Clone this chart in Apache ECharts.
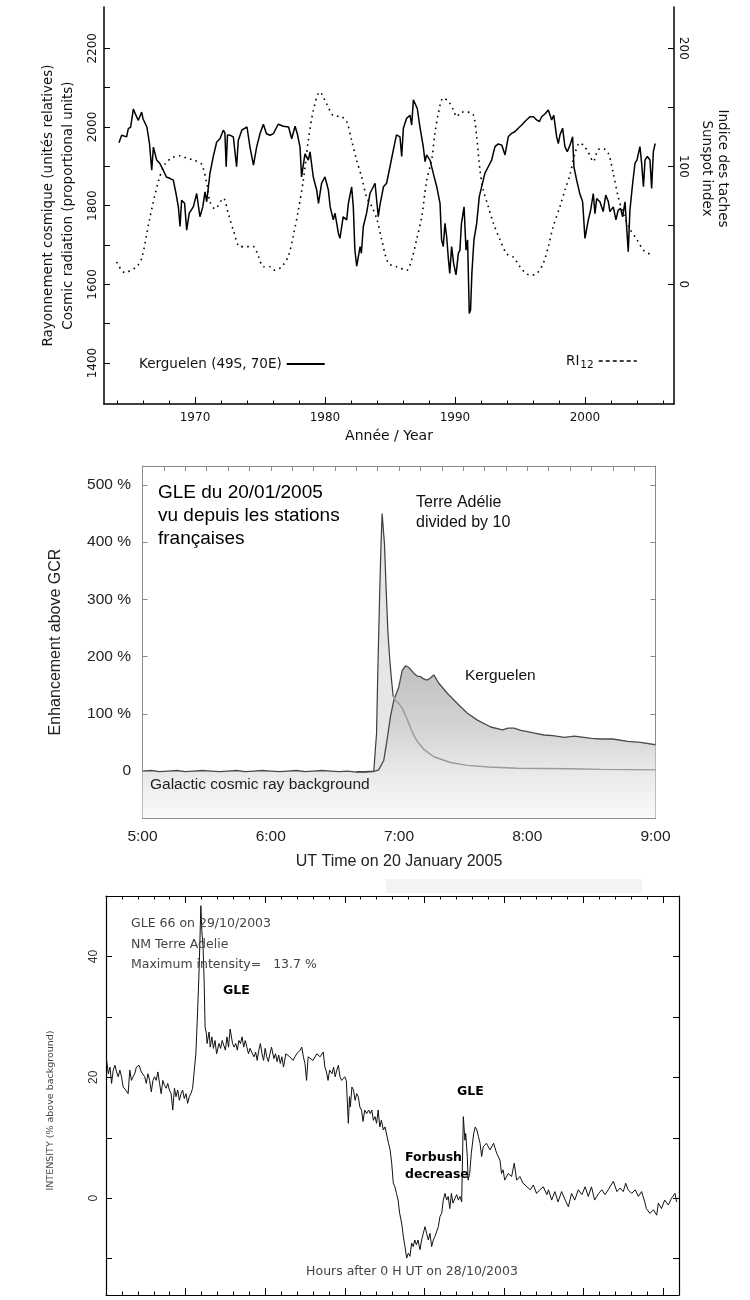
<!DOCTYPE html>
<html><head><meta charset="utf-8">
<script src="https://cdn.jsdelivr.net/npm/echarts@6/dist/echarts.min.js"></script>
<style>html,body{margin:0;padding:0;background:#fff}#c{width:750px;height:1300px}</style>
</head><body><div id="c"></div>
<script>
// ---------- DATA ----------
// Chart 1 : Kerguelen neutron monitor (left axis) and sunspot number RI12 (right axis)
const kerguelenMonthly = [
[1964.15,1960],[1964.36,1979],[1964.74,1975],[1964.87,1996],[1965.05,2000],[1965.26,2046],[1965.4,2034],[1965.64,2017],[1965.9,2038],[1966.0,2021],[1966.3,2000],[1966.5,1958],[1966.67,1890],[1966.8,1949],[1967.05,1916],[1967.3,1907],[1967.56,1890],[1967.8,1873],[1968.1,1869],[1968.33,1865],[1968.54,1831],[1968.72,1797],[1968.85,1747],[1968.97,1814],[1969.2,1806],[1969.36,1738],[1969.56,1781],[1969.87,1797],[1970.13,1831],[1970.38,1772],[1970.6,1797],[1970.77,1835],[1970.9,1810],[1971.15,1882],[1971.4,1924],[1971.67,1962],[1971.92,1970],[1972.18,1992],[1972.3,1985],[1972.4,1899],[1972.5,1980],[1972.7,1979],[1972.95,1975],[1973.2,1899],[1973.33,1966],[1973.6,1992],[1974.0,2000],[1974.23,1949],[1974.5,1903],[1974.74,1949],[1975.0,1983],[1975.26,2007],[1975.5,1983],[1975.77,1979],[1976.03,1983],[1976.4,2007],[1976.8,2002],[1977.2,2000],[1977.44,1970],[1977.7,2002],[1977.87,1983],[1978.08,1949],[1978.2,1873],[1978.46,1932],[1978.72,1916],[1978.85,1937],[1979.1,1873],[1979.36,1840],[1979.5,1806],[1979.74,1857],[1980.0,1873],[1980.26,1840],[1980.4,1797],[1980.64,1764],[1980.77,1781],[1981.03,1730],[1981.15,1717],[1981.4,1772],[1981.67,1764],[1981.8,1806],[1982.05,1848],[1982.18,1797],[1982.3,1688],[1982.44,1646],[1982.7,1696],[1982.8,1679],[1982.95,1747],[1983.2,1781],[1983.46,1831],[1983.85,1857],[1984.1,1772],
[1984.23,1802],[1984.5,1848],[1984.74,1857],[1985.0,1899],[1985.26,1942],[1985.5,1980],[1985.77,1975],[1985.9,1925],[1986.03,1997],[1986.28,2022],[1986.54,2030],[1986.67,2005],[1986.8,2069],[1986.92,2070],[1987.1,2047],[1987.3,2001],[1987.56,1950],[1987.7,1912],[1987.82,1929],[1988.08,1916],[1988.33,1882],[1988.6,1848],[1988.85,1806],[1988.97,1713],[1989.1,1696],[1989.23,1755],[1989.36,1721],[1989.5,1662],[1989.6,1628],[1989.74,1696],[1989.9,1653],[1990.08,1624],[1990.26,1679],[1990.38,1687],[1990.5,1755],[1990.7,1797],[1990.85,1687],[1990.97,1713],[1991.1,1526],[1991.2,1535],[1991.3,1628],[1991.46,1713],[1991.67,1755],[1991.87,1823],[1992.05,1848],[1992.3,1882],[1992.56,1899],[1992.82,1916],[1993.08,1950],[1993.33,1957],[1993.6,1954],[1993.85,1929],[1994.1,1975],[1994.36,1984],[1994.6,1988],[1994.87,1997],[1995.13,2005],[1995.38,2014],[1995.77,2026],[1996.03,2026],[1996.28,2018],[1996.5,2014],[1996.67,2026],[1996.92,2033],[1997.18,2043],[1997.44,2018],[1997.6,2030],[1997.82,1975],[1997.95,1958],[1998.08,1980],[1998.28,1997],[1998.46,1950],[1998.64,1937],[1998.85,1954],[1999.05,1975],[1999.15,1899],[1999.36,1865],[1999.6,1831],[1999.82,1810],[2000.0,1717],[2000.13,1713],[2000.26,1764],[2000.44,1789],[2000.64,1831],[2000.77,1780],[2000.9,1818],[2001.15,1810],[2001.4,1785],[2001.6,1827],[2001.8,1810],[2001.92,1785],[2002.18,1797],[2002.38,1764],[2002.56,1789],[2002.74,1793],[2002.9,1772],[2003.08,1810],[2003.33,1683],[2003.46,1789],[2003.67,1857],[2003.85,1908],[2004.0,1916],[2004.23,1950],[2004.36,1908],[2004.5,1848],[2004.62,1916],[2004.8,1925],[2005.0,1916],[2005.13,1844],[2005.26,1937],[2005.4,1958]
];
const sunspotRI12 = [
[1963.97,19],[1964.6,10],[1965.5,15],[1965.9,22],[1966.5,55],[1967.2,88],[1967.7,102],[1968.2,107],[1968.85,109],[1969.36,107],[1970.0,105],[1970.5,102],[1970.9,86],[1971.15,70],[1971.54,64],[1972.18,73],[1972.56,60],[1972.95,46],[1973.46,32],[1974.0,32],[1974.5,32],[1974.87,24],[1975.26,15],[1975.77,15],[1976.15,12],[1976.67,15],[1977.18,24],[1977.56,41],[1977.95,63],[1978.33,88],[1978.72,122],[1979.1,147],[1979.6,163],[1980.13,153],[1980.64,143],[1981.28,142],[1981.67,138],[1982.05,122],[1982.44,105],[1982.82,91],[1983.2,74],[1983.6,66],[1984.0,55],[1984.36,38],[1984.87,18],[1985.5,15],[1986.28,12],[1986.67,21],[1987.05,38],[1987.44,57],[1987.82,88],[1988.2,105],[1988.46,128],[1988.72,145],[1989.1,158],[1989.5,155],[1989.87,148],[1990.13,142],[1990.5,146],[1990.9,146],[1991.4,144],[1991.67,125],[1991.92,97],[1992.18,80],[1992.56,66],[1992.95,52],[1993.46,38],[1993.97,26],[1994.5,23],[1995.0,15],[1995.5,9],[1995.9,8],[1996.28,9],[1996.8,18],[1997.18,32],[1997.56,49],[1998.08,66],[1998.46,80],[1998.85,93],[1999.23,111],[1999.6,120],[1999.87,118],[2000.26,112],[2000.64,104],[2001.0,114],[2001.4,115],[2001.8,111],[2002.18,94],[2002.56,74],[2002.95,60],[2003.46,47],[2004.0,38],[2004.5,29],[2005.13,25]
];
const topYearLabels = [1970,1980,1990,2000];
const topYearTicks = [1964,1966,1968,1970,1972,1974,1976,1978,1980,1982,1984,1986,1988,1990,1992,1994,1996,1998,2000,2002,2004,2006];
const topLeftTicks = [1400,1500,1600,1700,1800,1900,2000,2100,2200];
const topLeftLabels = [1400,1600,1800,2000,2200];
const topRightTicks = [0,50,100,150,200];
const topRightLabels = [0,100,200];

// Chart 2 : GLE 20/01/2005 (x = minutes after 0:00 UT, y = % above GCR)
const kerguelen2005 = [
[300,0],[304,1],[308,-1],[312,0],[316,1],[320,-1],[324,0],[328,1],[332,0],[336,-1],[340,0],[344,1],[348,-1],[352,0],[356,1],[360,0],[364,-1],[368,0],[372,1],[376,-1],[380,0],[384,1],[388,0],[392,-1],[396,0],[400,-2],[404,-2],[408,-1],[410.5,2],[412.9,19],[414.4,54],[416,95],[417.6,124],[419.9,147],[421.5,176],[423.1,184],[424.6,181],[426.9,171],[428.5,166],[430.1,165],[431.5,161],[433.2,159],[434.8,163],[436.3,168],[438.7,153],[442.6,136],[447.3,118],[452,101],[456.7,89],[462.9,77],[468.4,72],[471,75],[473.8,75],[477,71],[480.1,69],[484,66],[487.9,63],[492,62],[497.3,59],[502,61],[506.6,59],[510,57],[514.5,56],[520,56],[527,52],[533,50],[540,46]
];
const adelieSpike2005 = [
[400,-1],[404,-1],[408.2,0],[409.5,66],[410.1,176],[411,316],[411.6,397],[412.1,450],[412.9,450],[413.2,397],[414,316],[414.8,243],[415.7,194],[416.5,159],[417.3,130]
];
const adelieDecay2005 = [
[417.3,130],[418.4,123],[419.9,118],[421.5,110],[423.9,90],[426.2,68],[428.5,52],[431.6,38],[436.3,25],[444.1,15],[451.9,10],[462,7],[475.4,5],[500,4],[514.5,3],[540,2]
];
const midTimeValues = [300,360,420,480,540];
const midTimeLabels = ['5:00','6:00','7:00','8:00','9:00'];
const midPctValues = [0,100,200,300,400,500];
const midPctLabels = ['0','100 %','200 %','300 %','400 %','500 %'];

// Chart 3 : NM Terre Adelie, Oct 2003 (x = hours after 0 H UT 28/10/2003)
const adelie2003 = [
[0.08,22.8],[0.29,20.6],[0.5,21.7],[0.7,19.0],[0.91,21.2],[1.12,22.0],[1.33,20.9],[1.54,20.1],[1.74,21.2],[1.95,20.1],[2.16,18.4],[2.49,17.9],[2.78,17.3],[2.99,21.2],[3.2,19.5],[3.4,20.1],[3.61,20.6],[3.82,21.7],[4.15,22.0],[4.44,20.9],[4.65,21.2],[4.86,20.1],[5.06,19.0],[5.27,20.6],[5.48,19.5],[5.69,17.6],[5.9,19.5],[6.1,20.1],[6.31,19.5],[6.52,20.9],[6.73,19.0],[6.93,17.3],[7.14,19.5],[7.35,18.7],[7.56,18.2],[7.76,19.0],[7.97,17.9],[8.18,17.3],[8.39,14.6],[8.6,18.2],[8.8,16.8],[9.01,17.9],[9.22,16.2],[9.43,17.3],[9.63,17.9],[9.84,16.5],[10.05,17.3],[10.26,15.7],[10.46,16.8],[10.67,17.3],[10.88,18.2],[11.09,18.4],[11.29,23.9],[11.5,30.5],[11.71,38.2],[11.92,48.4],[12.04,44.3],[12.2,41.5],[12.33,36.0],[12.45,28.3],[12.62,27.2],[12.7,25.6],[12.95,27.5],[13.1,25.0],[13.3,26.7],[13.5,24.8],[13.7,26.1],[13.9,23.9],[14.2,25.6],[14.4,24.8],[14.6,26.1],[14.8,25.3],[15.0,24.5],[15.2,26.7],[15.4,25.0],[15.6,28.0],[15.9,25.6],[16.1,25.0],[16.3,25.6],[16.5,24.5],[16.7,26.1],[16.9,25.6],[17.1,26.7],[17.3,25.0],[17.5,26.1],[17.7,25.0],[17.9,23.9],[18.1,24.8],[18.4,23.9],[18.6,23.4],[18.8,24.2],[19.0,22.8],[19.2,24.5],[19.4,25.6],[19.6,23.9],[19.8,22.8],[20.0,24.8],[20.2,23.4],[20.4,22.6],[20.6,23.9],[20.8,25.0],[21.1,23.1],[21.3,23.9],[21.5,22.6],[21.7,23.7],[21.9,22.3],[22.1,23.4],[22.3,21.7],[22.6,23.9],
[23.1,23.4],[23.5,22.8],[23.96,23.9],[24.4,24.5],[24.6,25.0],[24.8,23.4],[25.0,22.3],[25.2,19.5],[25.4,23.4],[25.6,23.7],[26.0,22.8],[26.5,23.9],[26.9,23.4],[27.3,24.2],[27.5,21.7],[27.7,20.9],[27.9,19.5],[28.1,21.2],[28.4,20.6],[28.6,21.7],[28.8,20.1],[29.0,21.2],[29.2,22.0],[29.4,20.1],[29.6,19.5],[29.8,19.3],[30.0,20.1],[30.2,19.5],[30.45,12.4],[30.6,16.8],[30.7,15.1],[30.9,18.4],[31.1,17.9],[31.3,16.2],[31.5,17.3],[31.7,16.8],[31.9,15.1],[32.1,14.6],[32.3,12.7],[32.5,14.6],[32.75,14.0],[33.0,14.6],[33.2,14.0],[33.4,14.6],[33.6,12.9],[33.8,13.5],[34.0,12.4],[34.2,14.6],[34.4,11.8],[34.6,12.9],[34.85,11.3],[35.06,11.8],[35.27,11.8],[35.5,9.1],[35.7,8.0],[35.9,5.8],[36.1,2.5],[36.3,1.9],[36.5,0.8],[36.7,-0.3],[36.9,-2.5],[37.15,-4.1],[37.36,-6.3],[37.57,-8.0],[37.78,-9.9],[37.99,-9.1],[38.2,-9.6],[38.4,-7.4],[38.6,-8.0],[38.8,-6.9],[39.0,-7.7],[39.2,-6.9],[39.45,-8.5],[39.66,-6.9],[39.87,-5.8],[40.08,-4.7],[40.29,-5.8],[40.5,-6.9],[40.71,-5.8],[40.92,-8.0],[41.13,-6.9],[41.34,-6.3],[41.55,-6.3],[41.76,-4.7],[41.97,-3.0],[42.18,-2.5],[42.38,-0.3],[42.6,0.8],[42.8,-0.3],[43.0,0.3],[43.2,-1.7],[43.4,0.8],[43.6,-0.8],[43.85,0.0],[44.06,0.6],[44.27,-0.3],[44.48,0.3],[44.69,-0.6],[44.81,-0.8],[44.9,13.5],[45.1,9.6],[45.2,10.7],[45.4,6.9],[45.5,3.0],[45.7,4.1],[45.9,7.4],[46.2,10.7],[46.4,11.8],[46.6,11.3],[46.8,10.2],[47.0,9.1],[47.2,6.9],[47.4,8.5],[47.8,9.1],
[48.25,8.0],[48.7,9.1],[49.1,7.4],[49.5,6.3],[49.7,4.1],[49.9,4.7],[50.1,3.0],[50.55,4.1],[50.97,3.6],[51.3,5.8],[51.6,3.0],[52.0,3.6],[52.4,2.5],[52.9,1.9],[53.3,1.4],[53.7,2.2],[54.1,0.8],[54.5,1.4],[54.95,1.9],[55.4,0.6],[55.6,1.4],[56.0,-0.3],[56.4,1.1],[56.8,-0.6],[57.25,1.1],[57.7,-0.3],[58.1,-1.4],[58.5,0.8],[58.9,-0.3],[59.35,1.4],[59.8,0.6],[60.2,1.9],[60.6,0.3],[61.0,1.9],[61.4,-0.3],[61.9,0.8],[62.3,1.4],[62.7,0.6],[63.1,1.4],[63.75,2.8],[64.2,1.1],[64.6,1.7],[65.0,1.1],[65.3,2.5],[65.6,1.4],[66.05,0.8],[66.5,1.4],[66.9,0.3],[67.3,1.1],[67.7,-0.6],[67.9,-1.7],[68.35,-2.5],[68.8,-1.9],[69.2,-2.8],[69.4,-0.8],[69.8,-1.7],[70.2,-0.3],[70.65,-1.1],[71.05,0.0],[71.5,0.8],[71.7,-0.6]
];
const botYTicks = [-10,0,10,20,30,40];
const botYLabels = [0,20,40];

// ---------- CHART ----------
const F1 = 'DejaVu Sans';
const F2 = 'Liberation Sans';
const chart = echarts.init(document.getElementById('c'), null, {renderer:'canvas', width:750, height:1300});

function line(color, w){ return {show:true, onZero:false, lineStyle:{color:color, width:w}}; }
function tick(len, color, custom){ const t = {show:true, inside:true, length:len, lineStyle:{color:color, width:1}}; if (custom) t.customValues = custom; return t; }
const noSplit = {show:false};

const option = {
  animation:false,
  backgroundColor:'#ffffff',
  grid:[
    {left:104, top:7, width:570, height:397, containLabel:false, outerBoundsMode:'none'},
    {left:142.5, top:466, width:513, height:352, containLabel:false, outerBoundsMode:'none'},
    {left:106, top:896, width:573, height:399, containLabel:false, outerBoundsMode:'none'}
  ],
  legend:[
    {data:['Kerguelen (49S, 70E)'], left:134, top:352, align:'right', itemWidth:38, itemHeight:12, itemGap:5,
     selectedMode:false, lineStyle:{width:2, type:'solid', color:'#000'}, itemStyle:{opacity:0},
     textStyle:{fontFamily:F1, fontSize:13.5, color:'#111'}},
    {data:['RI12'], left:561, top:349, align:'right', itemWidth:38, itemHeight:12,
     selectedMode:false, lineStyle:{width:1.5, type:[4,3], color:'#000'}, itemStyle:{opacity:0},
     formatter:function(){ return '{a|RI}{b|12}'; },
     textStyle:{fontFamily:F1, fontSize:13.5, color:'#111',
       rich:{a:{fontFamily:F1, fontSize:13.5, color:'#111'}, b:{fontFamily:F1, fontSize:10.5, color:'#111', padding:[9,0,0,1]}}}}
  ],
  xAxis:[
    {gridIndex:0, type:'value', min:1963, max:2006.85, position:'bottom',
     axisLine:line('#000',1.5), axisTick:tick(7,'#000',topYearLabels),
     axisLabel:{show:true, customValues:topYearLabels, margin:8, fontFamily:F1, fontSize:12, color:'#111', formatter:function(v){return String(v);}},
     splitLine:noSplit,
     name:'Année / Year', nameLocation:'middle', nameGap:25, nameTextStyle:{fontFamily:F1, fontSize:14, color:'#111'}},
    {gridIndex:0, type:'value', min:1963, max:2006.85, position:'bottom',
     axisLine:{show:false, onZero:false}, axisTick:tick(3.5,'#000',topYearTicks), axisLabel:{show:false}, splitLine:noSplit},
    {gridIndex:1, type:'value', min:300, max:540, interval:60, position:'bottom',
     axisLine:line('#8a8a8a',1), axisTick:tick(5,'#8a8a8a'),
     minorTick:{show:true, splitNumber:6, length:5, lineStyle:{color:'#8a8a8a', width:1}},
     axisLabel:{show:true, margin:11, fontFamily:F2, fontSize:15.5, color:'#222',
       formatter:function(v){ const i = midTimeValues.indexOf(v); return i >= 0 ? midTimeLabels[i] : ''; }},
     splitLine:noSplit, minorSplitLine:noSplit,
     name:'UT Time on 20 January 2005', nameLocation:'middle', nameGap:36, nameTextStyle:{fontFamily:F2, fontSize:16, color:'#222'}},
    {gridIndex:1, type:'value', min:300, max:540, interval:60, position:'top',
     axisLine:line('#8a8a8a',1), axisTick:tick(5,'#8a8a8a'),
     minorTick:{show:true, splitNumber:6, length:5, lineStyle:{color:'#8a8a8a', width:1}},
     axisLabel:{show:false}, splitLine:noSplit, minorSplitLine:noSplit},
    {gridIndex:2, type:'value', min:0, max:72, interval:10, position:'bottom',
     axisLine:line('#000',1.2), axisTick:tick(7,'#000'),
     minorTick:{show:true, splitNumber:5, length:3.5, lineStyle:{color:'#000', width:1}},
     axisLabel:{show:false}, splitLine:noSplit, minorSplitLine:noSplit},
    {gridIndex:2, type:'value', min:0, max:72, interval:10, position:'top',
     axisLine:line('#000',1.2), axisTick:tick(7,'#000'),
     minorTick:{show:true, splitNumber:5, length:3.5, lineStyle:{color:'#000', width:1}},
     axisLabel:{show:false}, splitLine:noSplit, minorSplitLine:noSplit}
  ],
  yAxis:[
    {gridIndex:0, type:'value', min:1296, max:2305, position:'left',
     axisLine:line('#000',1.5), axisTick:tick(6,'#000',topLeftTicks),
     axisLabel:{show:true, customValues:topLeftLabels, rotate:90, margin:5, fontFamily:F1, fontSize:12, color:'#111', formatter:function(v){return String(v);}},
     splitLine:noSplit,
     name:'Rayonnement cosmique (unités relatives)\nCosmic radiation (proportional units)', nameLocation:'middle', nameRotate:90, nameGap:26,
     nameTextStyle:{fontFamily:F1, fontSize:13.5, lineHeight:20, color:'#111'}},
    {gridIndex:0, type:'value', min:-101.3, max:235, position:'right',
     axisLine:line('#000',1.5), axisTick:tick(6,'#000',topRightTicks),
     axisLabel:{show:true, customValues:topRightLabels, rotate:-90, margin:3, fontFamily:F1, fontSize:12, color:'#111', formatter:function(v){return String(v);}},
     splitLine:noSplit,
     name:'Indice des taches\nSunspot index', nameLocation:'middle', nameRotate:-90, nameGap:24,
     nameTextStyle:{fontFamily:F1, fontSize:13.5, lineHeight:16, color:'#111', padding:[0,74,0,0]}},
    {gridIndex:1, type:'value', min:-82, max:533, position:'left',
     axisLine:line('#8a8a8a',1), axisTick:tick(5,'#8a8a8a',midPctValues),
     axisLabel:{show:true, customValues:midPctValues, margin:11.5, fontFamily:F2, fontSize:15.5, color:'#222',
       formatter:function(v){ const i = midPctValues.indexOf(v); return i >= 0 ? midPctLabels[i] : ''; }},
     splitLine:noSplit,
     name:'Enhancement above GCR', nameLocation:'middle', nameRotate:90, nameGap:79,
     nameTextStyle:{fontFamily:F2, fontSize:16, color:'#222'}},
    {gridIndex:1, type:'value', min:-82, max:533, position:'right',
     axisLine:line('#8a8a8a',1), axisTick:tick(5,'#8a8a8a',midPctValues), axisLabel:{show:false}, splitLine:noSplit},
    {gridIndex:2, type:'value', min:-16, max:50, position:'left',
     axisLine:line('#000',1.2), axisTick:tick(6,'#000',botYTicks),
     axisLabel:{show:true, customValues:botYLabels, rotate:90, margin:6, fontFamily:F2, fontSize:12, color:'#333', formatter:function(v){return String(v);}},
     splitLine:noSplit,
     name:'INTENSITY (% above background)', nameLocation:'middle', nameRotate:90, nameGap:50,
     nameTextStyle:{fontFamily:F1, fontSize:9.5, color:'#444', padding:[0,30,0,0]}},
    {gridIndex:2, type:'value', min:-16, max:50, position:'right',
     axisLine:line('#000',1.2), axisTick:tick(6,'#000',botYTicks), axisLabel:{show:false}, splitLine:noSplit}
  ],
  series:[
    {name:'Kerguelen (49S, 70E)', type:'line', xAxisIndex:0, yAxisIndex:0, data:kerguelenMonthly,
     symbol:'none', lineStyle:{color:'#000', width:1.5}, itemStyle:{color:'#000'}},
    {name:'RI12', type:'line', xAxisIndex:0, yAxisIndex:1, data:sunspotRI12, smooth:0.3,
     symbol:'none', lineStyle:{color:'#000', width:1.6, type:[1.6,4.2]}, itemStyle:{color:'#000'}},
    {name:'Terre Adélie / 10', type:'line', xAxisIndex:2, yAxisIndex:2, data:adelieSpike2005,
     symbol:'none', lineStyle:{color:'#3a3a3a', width:1.2},
     areaStyle:{origin:'start', color:'#e6e6e6', opacity:1}},
    {name:'Kerguelen 2005', type:'line', xAxisIndex:2, yAxisIndex:2, data:kerguelen2005,
     symbol:'none', lineStyle:{color:'#4a4a4a', width:1.3},
     areaStyle:{origin:'start', opacity:1,
       color:new echarts.graphic.LinearGradient(0, 655, 0, 818, [
         {offset:0, color:'#bcbcbc'}, {offset:0.45, color:'#d4d4d4'}, {offset:0.72, color:'#e9e9e9'}, {offset:1, color:'#fafafa'}], true)}},
    {name:'Terre Adélie decay', type:'line', xAxisIndex:2, yAxisIndex:2, data:adelieDecay2005,
     symbol:'none', lineStyle:{color:'#9a9a9a', width:1.4}},
    {name:'NM Terre Adelie 2003', type:'line', xAxisIndex:4, yAxisIndex:4, data:adelie2003,
     symbol:'none', lineStyle:{color:'#111', width:1}}
  ],
  graphic:[
    {type:'rect', z:-1, shape:{x:386, y:879, width:256, height:14}, style:{fill:'#f3f3f3'}},
    {type:'text', z:100, x:158, y:516, style:{text:'GLE du 20/01/2005\nvu depuis les stations\nfrançaises', fontFamily:F2, fontSize:19, lineHeight:23, fill:'#000', verticalAlign:'middle'}},
    {type:'text', z:100, x:416, y:513, style:{text:'Terre Adélie\ndivided by 10', fontFamily:F2, fontSize:16, lineHeight:20, fill:'#111', verticalAlign:'middle'}},
    {type:'text', z:100, x:465, y:676, style:{text:'Kerguelen', fontFamily:F2, fontSize:15.5, fill:'#111', verticalAlign:'middle'}},
    {type:'text', z:100, x:150, y:785, style:{text:'Galactic cosmic ray background', fontFamily:F2, fontSize:15.5, fill:'#222', verticalAlign:'middle'}},
    {type:'text', z:100, x:131, y:944.5, style:{text:'GLE 66 on 29/10/2003\nNM Terre Adelie\nMaximum intensity=   13.7 %', fontFamily:F1, fontSize:12.5, lineHeight:20.5, fill:'#444', verticalAlign:'middle'}},
    {type:'text', z:100, x:223, y:991, style:{text:'GLE', fontFamily:F1, fontWeight:'bold', fontSize:12.5, fill:'#000', verticalAlign:'middle'}},
    {type:'text', z:100, x:457, y:1092, style:{text:'GLE', fontFamily:F1, fontWeight:'bold', fontSize:12.5, fill:'#000', verticalAlign:'middle'}},
    {type:'text', z:100, x:405, y:1166, style:{text:'Forbush\ndecrease', fontFamily:F1, fontWeight:'bold', fontSize:12.5, lineHeight:16.5, fill:'#000', verticalAlign:'middle'}},
    {type:'text', z:100, x:412, y:1272, style:{text:'Hours after 0 H UT on 28/10/2003', fontFamily:F1, fontSize:12.5, fill:'#444', align:'center', verticalAlign:'middle'}}
  ]
};
chart.setOption(option);
</script></body></html>
